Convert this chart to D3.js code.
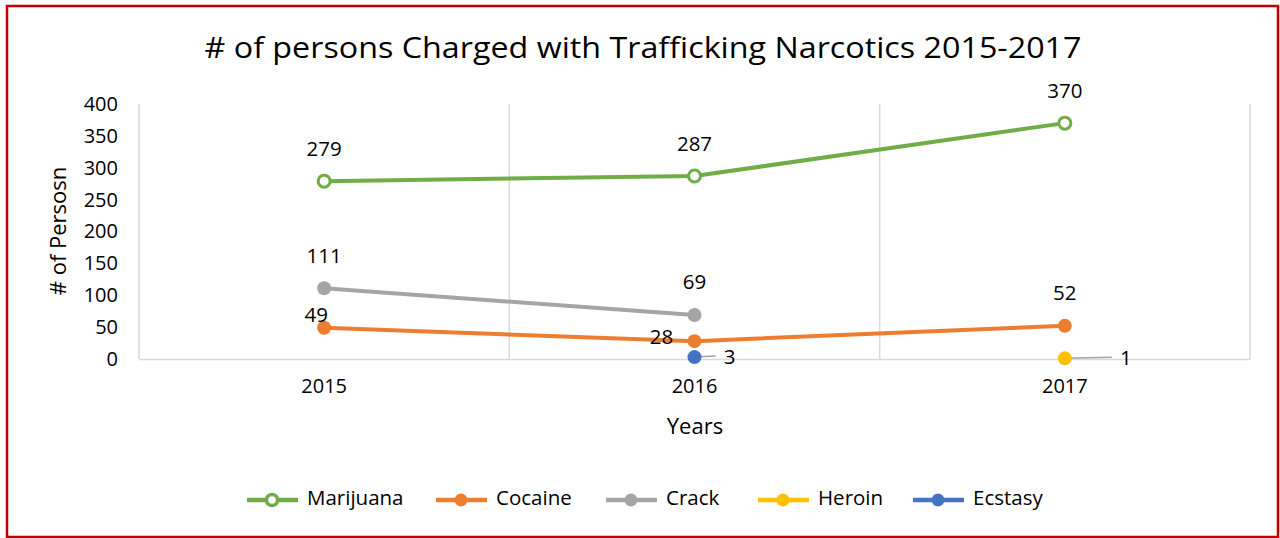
<!doctype html>
<html lang="en">
<head>
<meta charset="utf-8">
<title>Trafficking Narcotics</title>
<style>
    body { margin: 0; background: #fff; }
    text { font-family: "Open Sans", "Noto Sans", sans-serif; fill: #000; }
    .grid line { stroke: #d9d9d9; stroke-width: 1.5; }
    .data-label { font-size: 20.5px; text-anchor: middle; dominant-baseline: middle; }
</style>
</head>
<body>
<script src="https://d3js.org/d3.v7.min.js"></script>
<script>
    const years = ['2015', '2016', '2017'];
    const seriesNames = ['Marijuana', 'Cocaine', 'Crack', 'Heroin', 'Ecstasy'];
    const marijuana = [279, 287, 370];
    const cocaine = [49, 28, 52];
    const crack = [111, 69, null];
    const heroin = [null, null, 1];
    const ecstasy = [null, 3, null];
    const yTicks = [0, 50, 100, 150, 200, 250, 300, 350, 400];

    const colors = ['#70AD47', '#ED7D31', '#A5A5A5', '#FFC000', '#4472C4'];
    const allValues = [marijuana, cocaine, crack, heroin, ecstasy];

    const W = 1280, H = 538;
    const plot = { left: 139, right: 1250, top: 104, bottom: 359 };

    const svg = d3.select('body').append('svg')
        .attr('width', W).attr('height', H);

    // outer red frame
    svg.append('rect')
        .attr('x', 7).attr('y', 6)
        .attr('width', 1271).attr('height', 531)
        .attr('fill', 'none')
        .attr('stroke', '#C00000')
        .attr('stroke-width', 2.5);

    const x = d3.scaleBand().domain(years).range([plot.left, plot.right]);
    const y = d3.scaleLinear().domain([0, 400]).range([plot.bottom, plot.top]);

    // vertical gridlines at category boundaries
    const bounds = years.map(d => x(d)).concat([plot.right]);
    svg.append('g').attr('class', 'grid')
        .selectAll('line').data(bounds).enter().append('line')
        .attr('x1', d => d).attr('x2', d => d)
        .attr('y1', plot.top).attr('y2', plot.bottom);

    // y axis labels
    const yAxis = svg.append('g')
        .attr('transform', `translate(${plot.left},0)`)
        .call(d3.axisLeft(y).tickValues(yTicks).tickSize(0).tickPadding(21));
    yAxis.select('.domain').remove();
    yAxis.selectAll('text').attr('font-size', 20).attr('font-family', null);

    // x axis
    const xAxis = svg.append('g')
        .attr('transform', `translate(0,${plot.bottom})`)
        .call(d3.axisBottom(x).tickSize(0).tickPadding(20));
    xAxis.select('.domain').attr('stroke', '#d9d9d9').attr('stroke-width', 1.5);
    xAxis.selectAll('text').attr('font-size', 20).attr('font-family', null);

    // title
    svg.append('text')
        .attr('x', 643).attr('y', 50)
        .attr('text-anchor', 'middle').attr('dominant-baseline', 'middle')
        .attr('font-size', 29)
        .attr('textLength', 877).attr('lengthAdjust', 'spacingAndGlyphs')
        .text('# of persons Charged with Trafficking Narcotics 2015-2017');

    // axis titles
    svg.append('text')
        .attr('transform', 'translate(60,231) rotate(-90)')
        .attr('text-anchor', 'middle').attr('dominant-baseline', 'middle')
        .attr('font-size', 22)
        .text('# of Persosn');
    svg.append('text')
        .attr('x', 695).attr('y', 428)
        .attr('text-anchor', 'middle').attr('dominant-baseline', 'middle')
        .attr('font-size', 22)
        .text('Years');

    const cx = d => x(d) + x.bandwidth() / 2;
    const line = d3.line()
        .defined(d => d.v !== null)
        .x(d => cx(d.year))
        .y(d => y(d.v));

    const series = seriesNames.map((name, i) => ({
        name, color: colors[i],
        points: years.map((yr, j) => ({ year: yr, v: allValues[i][j] }))
    }));

    // draw in back-to-front order so Marijuana / Cocaine sit on top like the source
    const order = [4, 3, 2, 1, 0];
    order.forEach(i => {
        const s = series[i];
        const g = svg.append('g');
        g.append('path').datum(s.points)
            .attr('d', line)
            .attr('fill', 'none')
            .attr('stroke', s.color)
            .attr('stroke-width', 4)
            .attr('stroke-linejoin', 'round');
        const pts = s.points.filter(p => p.v !== null);
        g.selectAll('circle').data(pts).enter().append('circle')
            .attr('cx', p => cx(p.year))
            .attr('cy', p => y(p.v))
            .attr('r', i === 0 ? 6 : 7)
            .attr('fill', i === 0 ? '#fff' : s.color)
            .attr('stroke', s.color)
            .attr('stroke-width', i === 0 ? 3 : 0);

        pts.forEach(p => {
            let lx = cx(p.year), ly = y(p.v) - 31;
            if (s.name === 'Cocaine' && p.year !== '2017') {
                // labels pushed to the left of the point
                lx = cx(p.year) - (p.year === '2015' ? 8 : 33);
                ly = y(p.v) - (p.year === '2015' ? 11 : 3);
            }
            if (p.v < 5) {
                // tiny values: label off to the right with a leader line
                const off = s.name === 'Heroin' ? 61 : 35;
                lx = cx(p.year) + off;
                ly = y(p.v) + 1;
                g.insert('line', 'circle')
                    .attr('x1', cx(p.year)).attr('y1', y(p.v))
                    .attr('x2', lx - 14).attr('y2', y(p.v) - 1)
                    .attr('stroke', '#A5A5A5').attr('stroke-width', 1.5);
            }
            g.append('text').attr('class', 'data-label')
                .attr('x', lx).attr('y', ly)
                .text(p.v);
        });
    });

    // legend
    const legendX = [272, 461, 631, 783, 938];
    const legend = svg.append('g');
    series.forEach((s, i) => {
        const lg = legend.append('g').attr('transform', `translate(${legendX[i]},500)`);
        lg.append('line').attr('x1', -25).attr('x2', 26)
            .attr('stroke', s.color).attr('stroke-width', 4.5);
        lg.append('circle').attr('cx', 0).attr('cy', 0)
            .attr('r', i === 0 ? 5.5 : 6.5)
            .attr('fill', i === 0 ? '#fff' : s.color)
            .attr('stroke', s.color)
            .attr('stroke-width', i === 0 ? 3.5 : 0);
        lg.append('text').attr('x', 35).attr('y', 0)
            .attr('dominant-baseline', 'middle')
            .attr('font-size', 20.5)
            .text(s.name);
    });
</script>
</body>
</html>
